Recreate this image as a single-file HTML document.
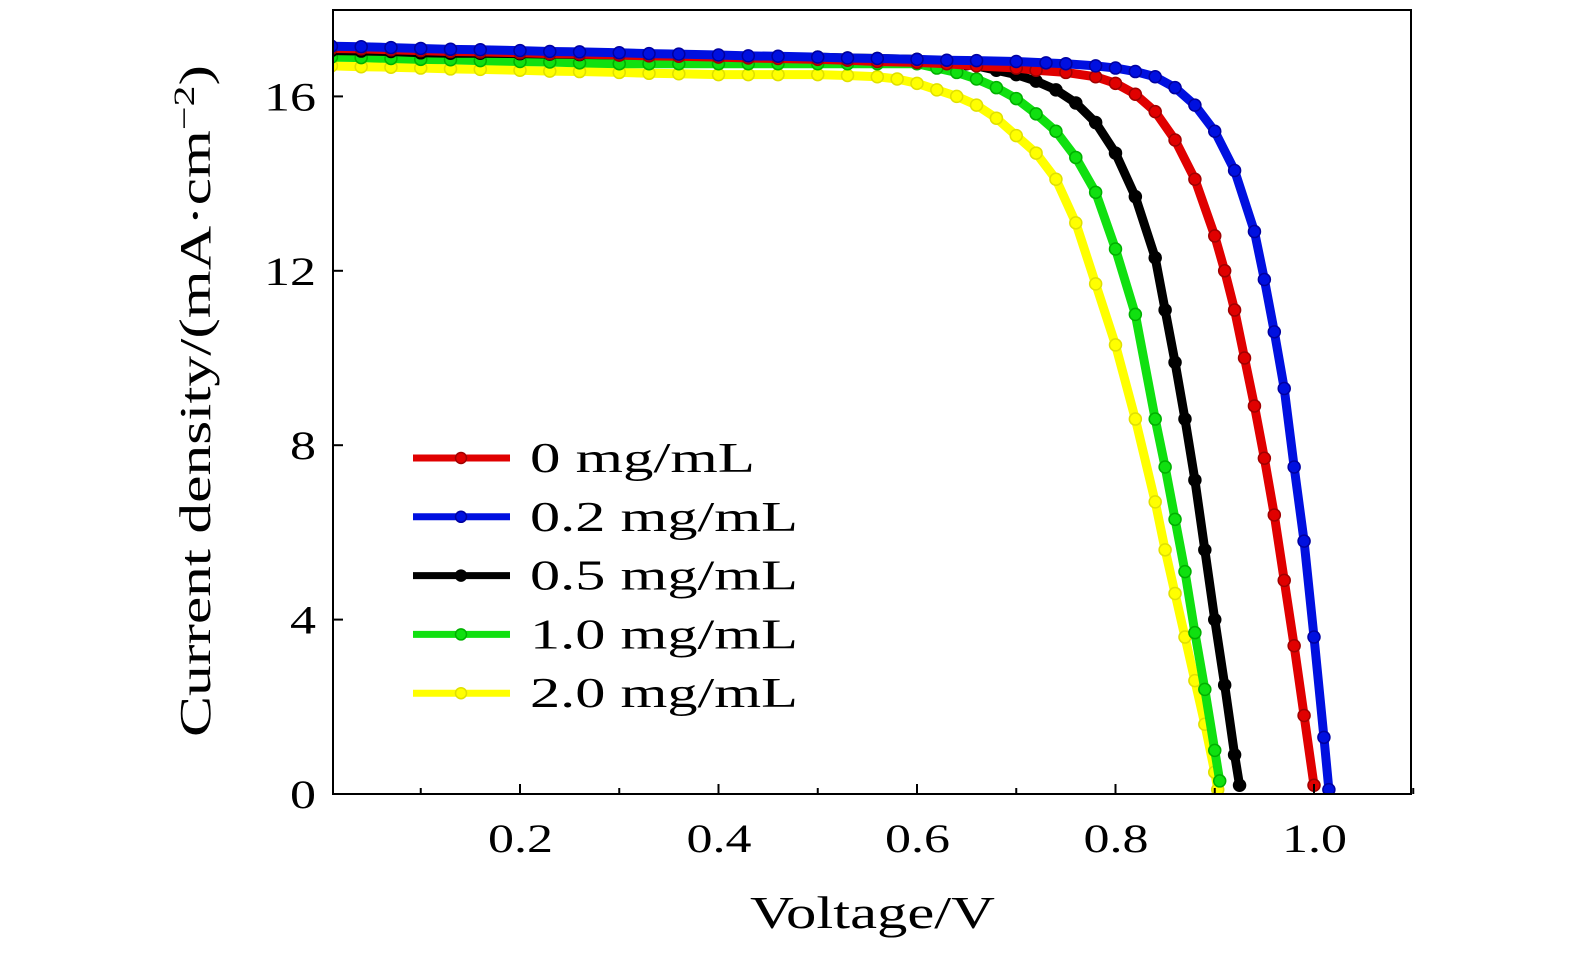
<!DOCTYPE html>
<html><head><meta charset="utf-8"><style>
body{margin:0;background:#fff;}
svg text{font-family:"Liberation Serif",serif;fill:#000;}
</style></head><body>
<svg width="1575" height="955" viewBox="0 0 1575 955" id="chart">
<defs><clipPath id="pc"><rect x="333" y="10" width="1078" height="784"/></clipPath></defs>
<g id="marks" clip-path="url(#pc)"></g>
<rect x="333" y="10" width="1078" height="784" fill="none" stroke="#000" stroke-width="2"/>
<g id="axes"></g>
<text x="750" y="928" font-size="46" textLength="245" lengthAdjust="spacingAndGlyphs">Voltage/V</text>
<text transform="translate(210,737) rotate(-90)" font-size="44" textLength="672" lengthAdjust="spacingAndGlyphs">Current density/(mA·cm<tspan dy="-16" font-size="30">−2</tspan><tspan dy="16">)</tspan></text>
<g id="legend"></g>
</svg>
<script>
const seriesNames=["0 mg/mL","0.2 mg/mL","0.5 mg/mL","1.0 mg/mL","2.0 mg/mL"];
const seriesColors=["#e00000","#0010e0","#000000","#10e010","#ffff00"];
const xTicks=[0.2,0.4,0.6,0.8,1.0];
const xTickLabels=["0.2","0.4","0.6","0.8","1.0"];
const xMinor=[0.1,0.3,0.5,0.7,0.9,1.1];
const yTicks=[0,4,8,12,16];
const earlyV=[0.01,0.04,0.07,0.1,0.13,0.16,0.2,0.23,0.26,0.3,0.33,0.36,0.4,0.43,0.46,0.5];
const redV=[0.53,0.56,0.6,0.63,0.66,0.7,0.72,0.75,0.78,0.8,0.82,0.84,0.86,0.88,0.9,0.91,0.92,0.93,0.94,0.95,0.96,0.97,0.98,0.99,1.0];
const redJ=[16.83,16.8,16.78,16.75,16.7,16.65,16.6,16.55,16.45,16.3,16.05,15.65,15.0,14.1,12.8,12.0,11.1,10.0,8.9,7.7,6.4,4.9,3.4,1.8,0.2];
const redEarly=[17.1,17.09,17.07,17.05,17.03,17.02,17.0,16.98,16.97,16.95,16.93,16.92,16.9,16.88,16.87,16.85];
const blueV=[0.53,0.56,0.6,0.63,0.66,0.7,0.73,0.75,0.78,0.8,0.82,0.84,0.86,0.88,0.9,0.92,0.94,0.95,0.96,0.97,0.98,0.99,1.0,1.01,1.015];
const blueJ=[16.88,16.87,16.85,16.83,16.82,16.8,16.77,16.75,16.7,16.65,16.57,16.45,16.2,15.8,15.2,14.3,12.9,11.8,10.6,9.3,7.5,5.8,3.6,1.3,0.1];
const blueEarly=[17.15,17.14,17.12,17.1,17.08,17.07,17.05,17.03,17.02,17.0,16.98,16.97,16.95,16.93,16.92,16.9];
const blackV=[0.53,0.56,0.6,0.63,0.65,0.68,0.7,0.72,0.74,0.76,0.78,0.8,0.82,0.84,0.85,0.86,0.87,0.88,0.89,0.9,0.91,0.92,0.925];
const blackJ=[16.88,16.87,16.85,16.8,16.75,16.6,16.5,16.35,16.15,15.85,15.4,14.7,13.7,12.3,11.1,9.9,8.6,7.2,5.6,4.0,2.5,0.9,0.2];
const blackEarly=[17.05,17.04,17.03,17.0,16.99,16.99,16.98,16.97,16.96,16.95,16.94,16.93,16.92,16.91,16.9,16.9];
const greenV=[0.53,0.56,0.6,0.62,0.64,0.66,0.68,0.7,0.72,0.74,0.76,0.78,0.8,0.82,0.84,0.85,0.86,0.87,0.88,0.89,0.9,0.905];
const greenJ=[16.75,16.75,16.75,16.65,16.55,16.4,16.2,15.95,15.6,15.2,14.6,13.8,12.5,11.0,8.6,7.5,6.3,5.1,3.7,2.4,1.0,0.3];
const greenEarly=[16.9,16.89,16.87,16.85,16.84,16.82,16.8,16.79,16.77,16.75,16.75,16.75,16.75,16.75,16.75,16.75];
const yellowV=[0.53,0.56,0.58,0.6,0.62,0.64,0.66,0.68,0.7,0.72,0.74,0.76,0.78,0.8,0.82,0.84,0.85,0.86,0.87,0.88,0.89,0.9,0.903];
const yellowJ=[16.48,16.45,16.4,16.3,16.15,16.0,15.8,15.5,15.1,14.7,14.1,13.1,11.7,10.3,8.6,6.7,5.6,4.6,3.6,2.6,1.6,0.5,0.1];
const yellowEarly=[16.7,16.68,16.67,16.65,16.63,16.62,16.6,16.58,16.57,16.55,16.53,16.52,16.5,16.5,16.5,16.5];

const NS="http://www.w3.org/2000/svg";
const X=v=>321.5+v*992.5;
const Y=j=>794-j*43.6;
function mk(tag,attrs,parent){const e=document.createElementNS(NS,tag);for(const k in attrs)e.setAttribute(k,attrs[k]);parent.appendChild(e);return e;}
const axes=document.getElementById('axes');
xTicks.forEach((t,i)=>{
  const l=mk('line',{x1:X(t),x2:X(t),y1:794,y2:784,stroke:'#000','stroke-width':2},axes);
  
  
  const tx=mk('text',{x:X(t)-32,y:852,'font-size':40,textLength:65,lengthAdjust:'spacingAndGlyphs'},axes);
  tx.textContent=xTickLabels[i];
  
  
});
xMinor.forEach(t=>{
  const l=mk('line',{x1:X(t),x2:X(t),y1:794,y2:788,stroke:'#000','stroke-width':2},axes);
  
  
});
yTicks.forEach(t=>{
  const l=mk('line',{x1:333,x2:343,y1:Y(t),y2:Y(t),stroke:'#000','stroke-width':2},axes);
  
  
  const s=String(t);
  const w=s.length*26;
  const tx=mk('text',{x:316-w,y:Y(t)+14,'font-size':40,textLength:w,lengthAdjust:'spacingAndGlyphs'},axes);
  tx.textContent=s;
  
  
});
const all=[[redV,redJ,redEarly],[blueV,blueJ,blueEarly],[blackV,blackJ,blackEarly],[greenV,greenJ,greenEarly],[yellowV,yellowJ,yellowEarly]];
const marks=document.getElementById('marks');
const strokeDark=["#a00000","#0000a0","#000000","#00b000","#e0e000"];
[4,3,2,0,1].forEach(i=>{
  const [v,j,e]=all[i];
  const vs=earlyV.concat(v), js=e.concat(j);
  const g=mk('g',{},marks);
  
  
  const p=mk('polyline',{points:vs.map((a,k)=>X(a)+','+Y(js[k])).join(' '),fill:'none',stroke:seriesColors[i],'stroke-width':9,'stroke-linejoin':'round'},g);
  
  
  vs.forEach((a,k)=>{
    const c=mk('circle',{cx:X(a),cy:Y(js[k]),r:6,fill:seriesColors[i],stroke:strokeDark[i],'stroke-width':1.5},g);
    
    
  });
});
const leg=document.getElementById('legend');
seriesNames.forEach((n,i)=>{
  const y=458+i*58.8;
  const g=mk('g',{},leg);
  
  
  mk('line',{x1:413,x2:510,y1:y,y2:y,stroke:seriesColors[i],'stroke-width':7},g);
  mk('circle',{cx:461,cy:y,r:5.5,fill:seriesColors[i],stroke:strokeDark[i],'stroke-width':1.5},g);
  const t=mk('text',{x:530,y:y+14,'font-size':42,textLength:(n.length===7?225:268),lengthAdjust:'spacingAndGlyphs'},g);
  t.textContent=n;
});
</script>
</body></html>
